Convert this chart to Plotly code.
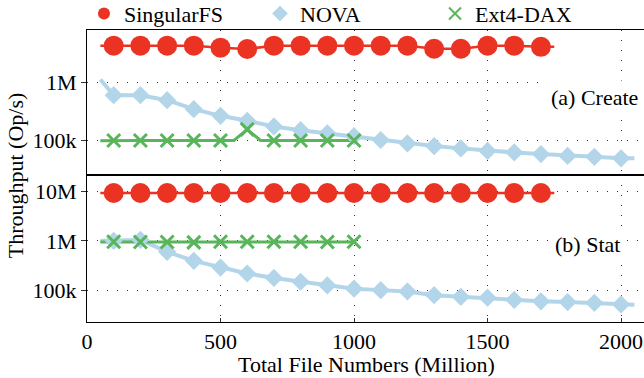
import plotly.graph_objects as go

# ---------------- data ----------------
x_sfs = [100, 200, 300, 400, 500, 600, 700, 800, 900, 1000, 1100, 1200, 1300, 1400, 1500, 1600, 1700]
x_nova = [100, 200, 300, 400, 500, 600, 700, 800, 900, 1000, 1100, 1200, 1300, 1400, 1500, 1600, 1700, 1800, 1900, 2000]
x_ext4 = [100, 200, 300, 400, 500, 600, 700, 800, 900, 1000]

# (a) Create  (Op/s)
create_sfs = [4.3e6, 4.3e6, 4.3e6, 4.3e6, 3.97e6, 3.77e6, 4.3e6, 4.3e6, 4.3e6, 4.3e6,
              4.3e6, 4.3e6, 3.8e6, 3.8e6, 4.3e6, 4.3e6, 4.1e6]
create_nova = [607e3, 607e3, 498e3, 349e3, 268e3, 220e3, 176e3, 152e3, 134e3, 120e3,
               103e3, 90e3, 81e3, 74e3, 67e3, 63e3, 59e3, 55e3, 53e3, 50e3]
create_ext4 = [101e3, 101e3, 101e3, 101e3, 101e3, 157e3, 101e3, 101e3, 101e3, 101e3]

# (b) Stat  (Op/s)
stat_sfs = [9.3e6] * 17
stat_nova = [1.0e6, 1.05e6, 600e3, 395e3, 289e3, 219e3, 178e3, 149e3, 126e3, 108e3,
             101e3, 95e3, 80e3, 74e3, 71e3, 64e3, 60e3, 58e3, 56e3, 52e3]
stat_ext4 = [0.96e6, 0.95e6, 0.95e6, 0.93e6, 0.96e6, 0.96e6, 0.96e6, 0.96e6, 0.95e6, 0.96e6]

# connecting curves (they extend past the markers)
lx_sfs = [50] + x_sfs + [1750]
lc_sfs = [4.3e6] + create_sfs + [4.1e6]
ls_sfs = [9.3e6] + stat_sfs + [9.3e6]
lx_nova = [50] + x_nova + [2050]
lc_nova = [1.13e6] + create_nova + [50e3]
ls_nova = [1.0e6] + stat_nova + [51e3]
lx_ext4_c = [50, 100, 200, 300, 400, 500, 550, 600, 650, 700, 800, 900, 1000]
lc_ext4 = [100e3, 101e3, 101e3, 101e3, 101e3, 101e3, 101e3, 157e3, 101e3, 101e3, 101e3, 101e3, 101e3]
lx_ext4_s = [50] + x_ext4
ls_ext4 = [0.95e6] + [0.95e6] * 10

names = ["SingularFS", "NOVA", "Ext4-DAX"]
ytick_vals = [1e5, 1e6, 1e7]
ytick_text = ["100k", "1M", "10M"]
xtick_vals = [0, 500, 1000, 1500, 2000]

RED = "#EB3324"
BLUE = "#B3D5EA"
GREEN = "#58B55A"
FONT = "Liberation Serif"
FS = 22

fig = go.Figure()

def add_panel(xa, ya, lsfs, lnova, lext_x, lext, msfs, mnova, mext, legend):
    fig.add_trace(go.Scatter(x=lx_nova, y=lnova, mode="lines", xaxis=xa, yaxis=ya,
                             line=dict(color=BLUE, width=4), showlegend=False, hoverinfo="skip"))
    fig.add_trace(go.Scatter(x=lext_x, y=lext, mode="lines", xaxis=xa, yaxis=ya,
                             line=dict(color=GREEN, width=3), showlegend=False, hoverinfo="skip"))
    fig.add_trace(go.Scatter(x=lx_sfs, y=lsfs, mode="lines", xaxis=xa, yaxis=ya,
                             line=dict(color=RED, width=2.5), showlegend=False, hoverinfo="skip"))
    fig.add_trace(go.Scatter(x=x_nova, y=mnova, mode="markers", xaxis=xa, yaxis=ya, name=names[1],
                             marker=dict(symbol="diamond", size=14, color=BLUE),
                             showlegend=legend, legend="legend2"))
    fig.add_trace(go.Scatter(x=x_ext4, y=mext, mode="markers", xaxis=xa, yaxis=ya, name=names[2],
                             marker=dict(symbol="x-thin", size=13, color=GREEN,
                                         line=dict(color=GREEN, width=3)),
                             showlegend=legend, legend="legend3"))
    fig.add_trace(go.Scatter(x=x_sfs, y=msfs, mode="markers", xaxis=xa, yaxis=ya, name=names[0],
                             marker=dict(symbol="circle", size=20, color=RED),
                             showlegend=legend, legend="legend"))

add_panel("x2", "y2", lc_sfs, lc_nova, lx_ext4_c, lc_ext4, create_sfs, create_nova, create_ext4, True)
add_panel("x", "y", ls_sfs, ls_nova, lx_ext4_s, ls_ext4, stat_sfs, stat_nova, stat_ext4, False)

grid = dict(showgrid=True, gridcolor="#333", gridwidth=1, griddash="1px,9px")
xbase = dict(range=[0, 2086], tickvals=xtick_vals, showline=True, linecolor="black",
             linewidth=1, mirror=True, zeroline=False, **grid)
ybase = dict(type="log", tickvals=ytick_vals, ticktext=ytick_text, showline=True,
             linecolor="black", linewidth=1, ticks="outside", ticklen=5, tickcolor="#333",
             zeroline=False, **grid)

leg = dict(orientation="h", yanchor="middle", y=1.056, xanchor="left",
           bgcolor="rgba(0,0,0,0)", itemsizing="constant",
           font=dict(family=FONT, size=FS, color="black"))

fig.update_layout(
    width=644, height=378,
    margin=dict(l=87, r=0, t=30, b=56, autoexpand=False),
    paper_bgcolor="white", plot_bgcolor="white",
    font=dict(family=FONT, size=FS, color="black"),
    xaxis=dict(domain=[0, 1], anchor="y", ticks="inside", ticklen=4, tickcolor="#333", **xbase),
    xaxis2=dict(domain=[0, 1], anchor="y2", showticklabels=False, ticks="", **xbase),
    yaxis=dict(domain=[0, 0.502], anchor="x", range=[4.36, 7.323], **ybase),
    yaxis2=dict(domain=[0.502, 1], anchor="x2", range=[4.405, 6.902], **ybase),
    legend=dict(x=-0.0054, **leg),
    legend2=dict(x=0.3106, **leg),
    legend3=dict(x=0.6248, **leg),
    showlegend=True,
    annotations=[
        dict(text="(a) Create", xref="paper", yref="paper", x=0.912, y=0.7705,
             xanchor="center", yanchor="middle",
             showarrow=False, bgcolor="white", borderpad=4, font=dict(size=FS)),
        dict(text="(b) Stat", xref="paper", yref="paper", x=0.8977, y=0.267,
             xanchor="center", yanchor="middle",
             showarrow=False, bgcolor="white", borderpad=4, font=dict(size=FS)),
        dict(text="Throughput (Op/s)", xref="paper", yref="paper", x=-0.129, y=0.503,
             textangle=-90, showarrow=False, xanchor="center", yanchor="middle",
             font=dict(size=FS)),
        dict(text="Total File Numbers (Million)", xref="paper", yref="paper", x=0.501,
             y=-0.145, showarrow=False, xanchor="center", yanchor="middle",
             font=dict(size=FS)),
    ],
)

fig.write_html("out.html")
